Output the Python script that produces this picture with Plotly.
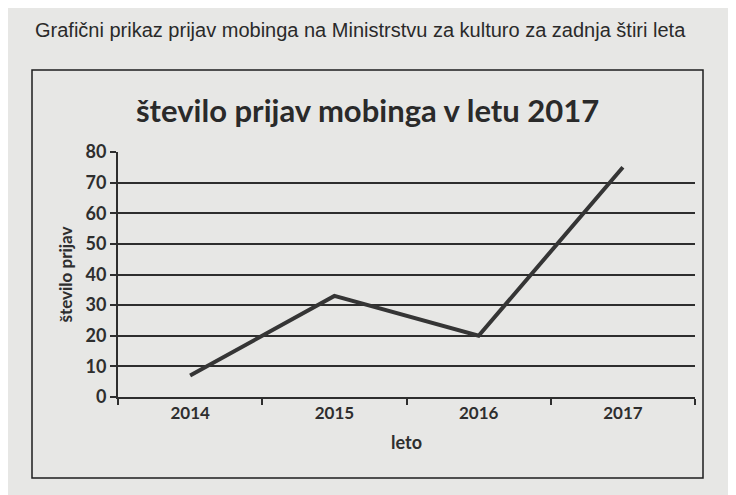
import plotly.graph_objects as go

years = ["2014", "2015", "2016", "2017"]
reports = [7, 33, 20, 75]
y_ticks = [0, 10, 20, 30, 40, 50, 60, 70, 80]

W, H = 736, 495
OFF = 8  # page offset of the figure inside the browser window
ML, MR, MT, MB = 118 - OFF, 41 + OFF, 152 - OFF, 98 + OFF

def px_x(x):
    return (x - OFF - ML) / (W - ML - MR)

def px_y(y):
    return (H - MB - (y - OFF)) / (H - MT - MB)

fig = go.Figure()
fig.add_trace(go.Scatter(
    x=years, y=reports, mode="lines",
    line=dict(color="#353535", width=4),
    hoverinfo="x+y",
))

fig.update_layout(
    width=W, height=H,
    margin=dict(l=ML, r=MR, t=MT, b=MB),
    paper_bgcolor="#e7e7e5",
    plot_bgcolor="rgba(0,0,0,0)",
    showlegend=False,
    font=dict(family="Lato, Open Sans, sans-serif", color="#2e2e2e"),
)

fig.update_xaxes(
    type="category", range=[-0.5, 3.5],
    showgrid=False, showline=True, linecolor="#2e2e2e", linewidth=2,
    ticks="outside", tickson="boundaries", ticklen=6, tickwidth=2, tickcolor="#2e2e2e",
    tickfont=dict(size=17, family="Lato", color="#2e2e2e", weight="bold"),
    title=dict(text="<b>leto</b>", font=dict(size=18, family="Lato", color="#2e2e2e"), standoff=14),
)
fig.update_yaxes(
    range=[0, 80], tickvals=y_ticks,
    showgrid=True, gridcolor="#2e2e2e", gridwidth=2,
    showline=True, linecolor="#2e2e2e", linewidth=2,
    ticks="outside", ticklen=6, tickwidth=2, tickcolor="#2e2e2e",
    tickfont=dict(size=18, family="Lato", color="#2e2e2e", weight="bold"),
    zeroline=False,
    title=dict(text="<b>število prijav</b>", font=dict(size=17, family="Lato", color="#2e2e2e"), standoff=9),
)

# outer chart box
fig.add_shape(type="rect", xref="paper", yref="paper",
              x0=px_x(32), x1=px_x(703), y0=px_y(478), y1=px_y(70),
              line=dict(color="#1e1e1e", width=1.5), fillcolor="rgba(0,0,0,0)", layer="below")

fig.add_annotation(xref="paper", yref="paper", x=px_x(367), y=px_y(110),
                   text="<b>število prijav mobinga v letu 2017</b>", showarrow=False,
                   font=dict(size=31, family="Lato", color="#2a2a2a"),
                   xanchor="center", yanchor="middle")

fig.add_annotation(xref="paper", yref="paper", x=px_x(33), y=px_y(30),
                   text="Grafični prikaz prijav mobinga na Ministrstvu za kulturo za zadnja štiri leta",
                   showarrow=False,
                   font=dict(size=20, family="Liberation Sans, Arial", color="#2a2a2a"),
                   xanchor="left", yanchor="middle")

fig.write_html("out.html")
